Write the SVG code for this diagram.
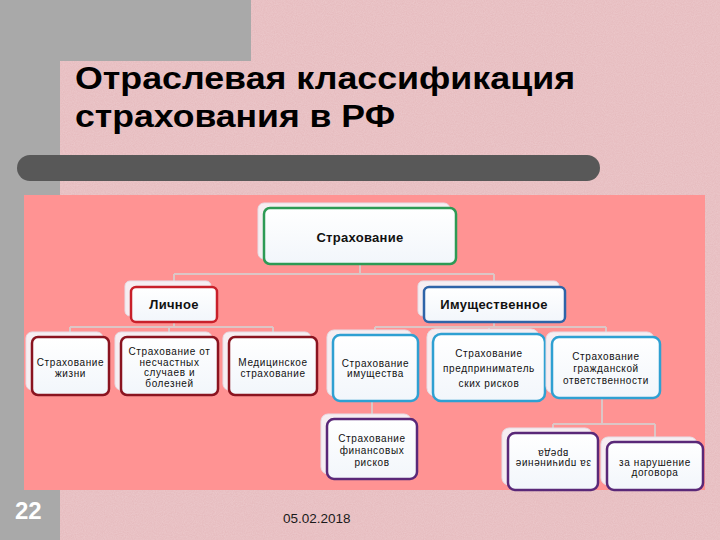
<svg xmlns="http://www.w3.org/2000/svg" width="720" height="540" viewBox="0 0 720 540">
<defs>
<style>
.bg{fill:#e5b9bc}
.gray{fill:#a9a9a9}
.sh{fill:#f6eef2;stroke:#e6dde6;stroke-width:1}
.box{fill:url(#g);stroke-width:2.5}
.green{stroke:#2e9a55}
.red{stroke:#c8202a}
.dred{stroke:#8a1420}
.blue{stroke:#2f64a8}
.lblue{stroke:#2fa0d2}
.purple{stroke:#5a2878}
.conn{fill:none;stroke:#dcc6c6;stroke-width:2}
.t1{font-family:"Liberation Sans",Arial,sans-serif;font-size:13px;font-weight:bold;fill:#111;text-anchor:middle;letter-spacing:0.3px}
.t2{font-family:"Liberation Sans",Arial,sans-serif;font-size:10px;fill:#111;text-anchor:middle;letter-spacing:0.6px}
.title{font-family:"Liberation Sans",Arial,sans-serif;font-size:32px;font-weight:bold;fill:#000}
</style>
<linearGradient id="g" x1="0" y1="0" x2="0" y2="1">
<stop offset="0" stop-color="#ffffff"/>
<stop offset="1" stop-color="#f2f6fb"/>
</linearGradient>
<filter id="noise" x="0" y="0" width="100%" height="100%">
<feTurbulence type="fractalNoise" baseFrequency="0.9" numOctaves="2" seed="3" result="n"/>
<feColorMatrix in="n" type="matrix" values="0 0 0 0 0.95  0 0 0 0 0.8  0 0 0 0 0.82  0 0 0 0.35 0" result="c"/>
<feComposite in="c" in2="SourceGraphic" operator="in"/>
</filter>
</defs>
<g id="background">
<rect class="bg" x="0" y="0" width="720" height="540"/>
<rect x="0" y="0" width="720" height="540" fill="#e5b9bc" filter="url(#noise)"/>
<rect class="gray" x="0" y="0" width="251" height="61"/>
<rect class="gray" x="0" y="0" width="60" height="540"/>
<rect x="17" y="155" width="583" height="26" rx="13" fill="#585858"/>
<rect x="24" y="195" width="681" height="295" fill="#ff9393"/>
</g>
<g id="title">
<text class="title" x="75" y="89" textLength="500" lengthAdjust="spacingAndGlyphs">Отраслевая классификация</text>
<text class="title" x="75" y="127" textLength="320" lengthAdjust="spacingAndGlyphs">страхования в РФ</text>
</g>
<g id="connectors">
<path class="conn" d="M360 264V274M174 274H494M174 274V287M494 274V287"/>
<path class="conn" d="M174 322V327M70 327H273M70 327V337M169 327V337M273 327V337"/>
<path class="conn" d="M494 322V327M375 327H606M375 327V335M489 327V334M606 327V337"/>
<path class="conn" d="M372 401V419"/>
<path class="conn" d="M602 398V424M553 424H655M553 424V433M655 424V442"/>
</g>
<g id="n-root">
<rect class="sh" x="258" y="203" width="192" height="56" rx="6"/>
<rect class="box green" x="264" y="208" width="192" height="56" rx="6"/>
<text class="t1" x="360" y="242">Страхование</text>
</g>
<g id="n-lichnoe">
<rect class="sh" x="125" y="281" width="86" height="35" rx="5"/>
<rect class="box red" x="131" y="287" width="86" height="35" rx="5"/>
<text class="t1" x="174" y="309">Личное</text>
</g>
<g id="n-imush">
<rect class="sh" x="418" y="281" width="141" height="35" rx="5"/>
<rect class="box blue" x="424" y="287" width="141" height="35" rx="5"/>
<text class="t1" x="494" y="309">Имущественное</text>
</g>
<g id="n-zhizn">
<rect class="sh" x="26" y="332" width="77" height="58" rx="6"/>
<rect class="box dred" x="32" y="337" width="77" height="58" rx="6"/>
<text class="t2" x="70.5" y="365.5">Страхование</text>
<text class="t2" x="70.5" y="376.5">жизни</text>
</g>
<g id="n-neschast">
<rect class="sh" x="115" y="332" width="97" height="58" rx="6"/>
<rect class="box dred" x="121" y="337" width="97" height="58" rx="6"/>
<text class="t2" x="169.5" y="354.5">Страхование от</text>
<text class="t2" x="169.5" y="365.5">несчастных</text>
<text class="t2" x="169.5" y="376">случаев и</text>
<text class="t2" x="169.5" y="386.5">болезней</text>
</g>
<g id="n-medic">
<rect class="sh" x="223" y="332" width="88" height="58" rx="6"/>
<rect class="box dred" x="229" y="337" width="88" height="58" rx="6"/>
<text class="t2" x="273" y="365.5">Медицинское</text>
<text class="t2" x="273" y="376.5">страхование</text>
</g>
<g id="n-imushestvo">
<rect class="sh" x="327" y="330" width="85" height="66" rx="7"/>
<rect class="box lblue" x="333" y="335" width="85" height="66" rx="7"/>
<text class="t2" x="375.5" y="366.5">Страхование</text>
<text class="t2" x="375.5" y="376.5">имущества</text>
</g>
<g id="n-predpr">
<rect class="sh" x="427" y="329" width="112" height="67" rx="8"/>
<rect class="box lblue" x="433" y="334" width="112" height="67" rx="8"/>
<text class="t2" x="489" y="356.5">Страхование</text>
<text class="t2" x="489" y="371.5">предприниматель</text>
<text class="t2" x="489" y="386.5">ских рисков</text>
</g>
<g id="n-grazhd">
<rect class="sh" x="546" y="332" width="108" height="61" rx="7"/>
<rect class="box lblue" x="552" y="337" width="108" height="61" rx="7"/>
<text class="t2" x="606" y="359.5">Страхование</text>
<text class="t2" x="606" y="371.5">гражданской</text>
<text class="t2" x="606" y="383.5">ответственности</text>
</g>
<g id="n-finans">
<rect class="sh" x="321" y="414" width="90" height="60" rx="7"/>
<rect class="box purple" x="327" y="419" width="90" height="60" rx="7"/>
<text class="t2" x="372" y="441.5">Страхование</text>
<text class="t2" x="372" y="453.5">финансовых</text>
<text class="t2" x="372" y="465.5">рисков</text>
</g>
<g id="n-vred">
<rect class="sh" x="502" y="428" width="90" height="57" rx="7"/>
<rect class="box purple" x="508" y="433" width="90" height="57" rx="7"/>
<g transform="rotate(180 553 461.5)">
<text class="t2" x="553" y="463.5">за причинение</text>
<text class="t2" x="553" y="473.5">вреда</text>
</g>
</g>
<g id="n-dogovor">
<rect class="sh" x="601" y="437" width="96" height="48" rx="7"/>
<rect class="box purple" x="607" y="442" width="96" height="48" rx="7"/>
<text class="t2" x="655" y="465.5">за нарушение</text>
<text class="t2" x="655" y="475.5">договора</text>
</g>
<g id="footer">
<text x="15" y="519" font-family="Liberation Sans, Arial, sans-serif" font-size="24" font-weight="bold" fill="#ffffff">22</text>
<text x="283" y="523" font-family="Liberation Sans, Arial, sans-serif" font-size="13.5" fill="#1a1a1a">05.02.2018</text>
</g>
</svg>
